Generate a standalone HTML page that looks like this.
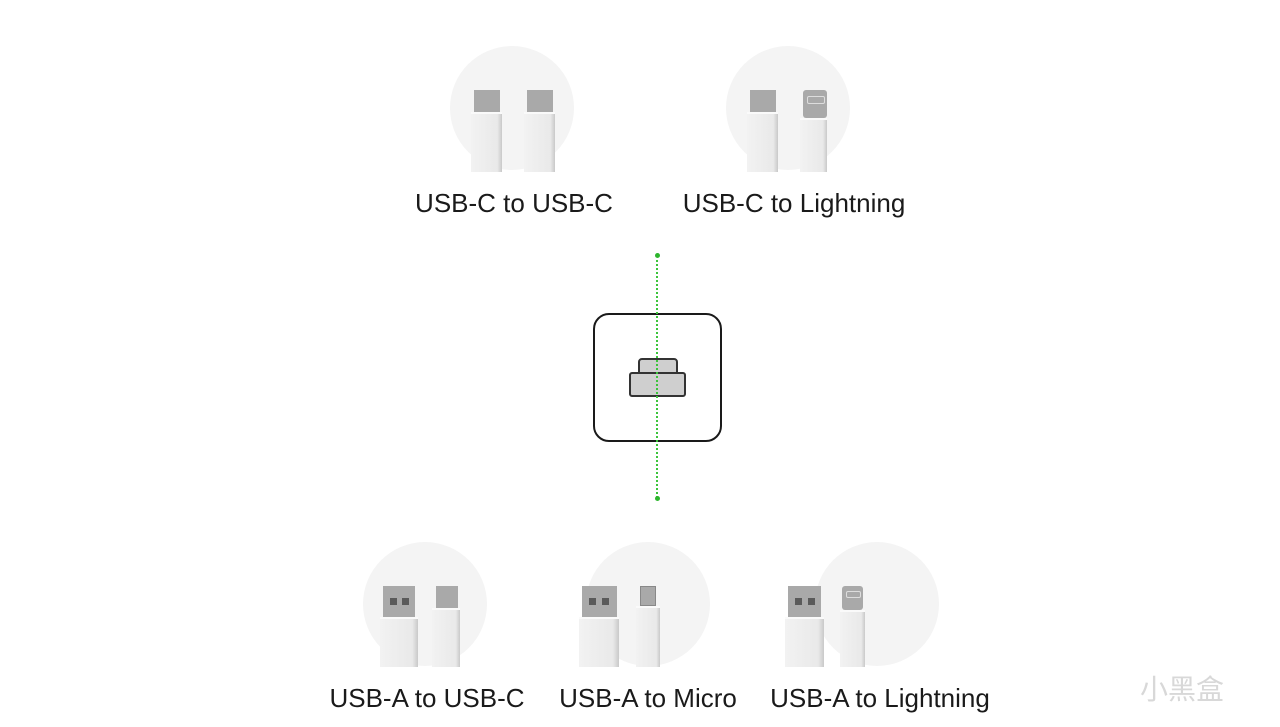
<!DOCTYPE html>
<html><head><meta charset="utf-8"><style>
body{margin:0;width:1280px;height:727px;background:#fff;position:relative;overflow:hidden;font-family:"Liberation Sans","Noto Sans CJK SC",sans-serif}
.a{position:absolute}
.c{position:absolute;width:124px;height:124px;border-radius:50%;background:#f4f4f4}
.h{position:absolute;background:#a9a9a9}
.b{position:absolute;background:linear-gradient(90deg,#f2f2f2,#e9e9e9 85%,#c9c9c9);border-top:2px solid #fafafa}
.l{position:absolute;font-size:26px;color:#1a1a1a;white-space:nowrap;transform:translateX(-50%)}
.p{position:absolute;width:7px;height:7px;background:#5a5a5a}
</style></head><body>
<div class="c" style="left:450px;top:46px"></div>
<div class="c" style="left:726px;top:46px"></div>
<div class="c" style="left:363px;top:542px"></div>
<div class="c" style="left:586px;top:542px"></div>
<div class="c" style="left:815px;top:542px"></div>
<div class="h" style="left:474px;top:90px;width:26px;height:22px"></div>
<div class="b" style="left:471px;top:112px;width:31px;height:58px"></div>
<div class="h" style="left:527px;top:90px;width:26px;height:22px"></div>
<div class="b" style="left:524px;top:112px;width:31px;height:58px"></div>
<div class="h" style="left:750px;top:90px;width:26px;height:22px"></div>
<div class="b" style="left:747px;top:112px;width:31px;height:58px"></div>
<div class="h" style="left:803px;top:90px;width:24px;height:28px;border-radius:3px"></div>
<div class="a" style="left:807px;top:96px;width:16px;height:6px;border:1px solid #ddd;border-radius:2px"></div>
<div class="b" style="left:800px;top:118px;width:27px;height:52px"></div>
<div class="h" style="left:383px;top:586px;width:32px;height:31px"></div>
<div class="p" style="left:390px;top:598px"></div><div class="p" style="left:402px;top:598px"></div>
<div class="b" style="left:380px;top:617px;width:38px;height:48px"></div>
<div class="h" style="left:436px;top:586px;width:22px;height:22px"></div>
<div class="b" style="left:432px;top:608px;width:28px;height:57px"></div>
<div class="h" style="left:582px;top:586px;width:35px;height:31px"></div>
<div class="p" style="left:589px;top:598px"></div><div class="p" style="left:602px;top:598px"></div>
<div class="b" style="left:579px;top:617px;width:40px;height:48px"></div>
<div class="h" style="left:640px;top:586px;width:16px;height:20px;border:1px solid #888;box-sizing:border-box"></div>
<div class="b" style="left:636px;top:606px;width:24px;height:59px"></div>
<div class="h" style="left:788px;top:586px;width:33px;height:31px"></div>
<div class="p" style="left:795px;top:598px"></div><div class="p" style="left:808px;top:598px"></div>
<div class="b" style="left:785px;top:617px;width:39px;height:48px"></div>
<div class="h" style="left:842px;top:586px;width:21px;height:24px;border-radius:3px"></div>
<div class="a" style="left:846px;top:591px;width:13px;height:5px;border:1px solid #ddd;border-radius:2px"></div>
<div class="b" style="left:840px;top:610px;width:25px;height:55px"></div>
<div class="l" style="left:514px;top:188px">USB-C to USB-C</div>
<div class="l" style="left:794px;top:188px">USB-C to Lightning</div>
<div class="l" style="left:427px;top:683px">USB-A to USB-C</div>
<div class="l" style="left:648px;top:683px">USB-A to Micro</div>
<div class="l" style="left:880px;top:683px">USB-A to Lightning</div>
<div class="a" style="left:593px;top:313px;width:125px;height:125px;border:2px solid #1a1a1a;border-radius:16px"></div>
<div class="a" style="left:638px;top:358px;width:36px;height:14px;background:#cfcfcf;border:2px solid #333;border-radius:4px 4px 0 0"></div>
<div class="a" style="left:629px;top:372px;width:53px;height:21px;background:#cfcfcf;border:2px solid #333;border-radius:3px"></div>
<div class="a" style="left:656px;top:255px;height:243px;border-left:2px dotted #3cc43c"></div>
<div class="a" style="left:655px;top:253px;width:5px;height:5px;border-radius:50%;background:#2db52d"></div>
<div class="a" style="left:655px;top:496px;width:5px;height:5px;border-radius:50%;background:#2db52d"></div>
<div class="a" style="left:1140px;top:668px;font-size:28px;color:#d8d8d8">小黑盒</div>
</body></html>
